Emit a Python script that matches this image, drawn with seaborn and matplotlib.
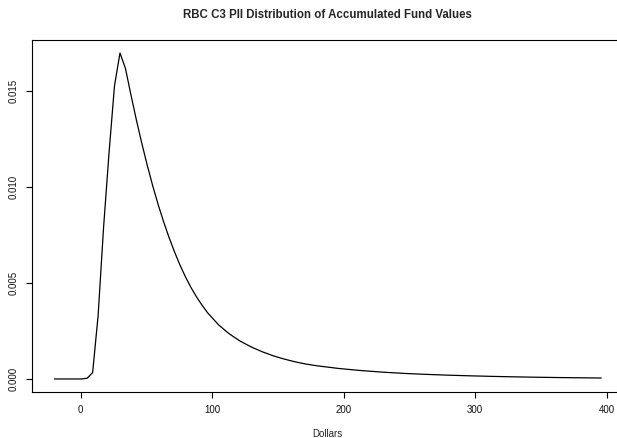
import matplotlib
matplotlib.use("Agg")
import matplotlib.pyplot as plt
import seaborn as sns
import pandas as pd

# Estimated density of accumulated fund values (dollars)
dollars = [-20.0, 0.8, 4.96, 9.12, 13.28, 17.44, 21.6, 25.76, 29.92, 34.08,
           38.24, 42.4, 46.56, 50.72, 54.88, 59.04, 63.2, 67.36, 71.52, 75.68,
           79.84, 84.0, 88.16, 92.32, 96.48, 104.8, 113.12, 121.44, 129.76,
           138.08, 146.4, 154.72, 163.04, 171.36, 179.68, 196.32, 212.96,
           229.6, 246.24, 262.88, 279.52, 296.16, 312.8, 329.44, 346.08,
           362.72, 379.36, 396.0]
density = [0.0, 0.0, 0.00004, 0.00033, 0.0033, 0.0079, 0.0118, 0.0153, 0.0170, 0.0162,
           0.01482, 0.01351, 0.01228, 0.01113, 0.01006, 0.00908, 0.00818, 0.00736, 0.00661, 0.00592,
           0.00531, 0.00476, 0.00428, 0.00385, 0.00346, 0.00283, 0.00235, 0.00197, 0.00167,
           0.00142, 0.00121, 0.00104, 0.000895, 0.000778, 0.000688, 0.000547, 0.00044,
           0.000356, 0.000289, 0.000239, 0.000198, 0.000164, 0.000135, 0.000111, 0.0000908,
           0.0000745, 0.0000611, 0.00005]

x_ticks = [0, 100, 200, 300, 400]
y_ticks = [0.000, 0.005, 0.010, 0.015]
y_tick_labels = ["0.000", "0.005", "0.010", "0.015"]

df = pd.DataFrame({"Dollars": dollars, "Density": density})

sns.set_style("ticks")
plt.rcParams["font.family"] = ["Liberation Sans", "DejaVu Sans"]

fig = plt.figure(figsize=(6.17, 4.38), dpi=100)
# the plot frame runs past the right edge of the canvas
ax = fig.add_axes([32 / 617, 46 / 438, 591.6 / 617, 352 / 438])

sns.lineplot(data=df, x="Dollars", y="Density", ax=ax, color="black",
             linewidth=0.9, estimator=None, sort=False)

ax.set_xlim(-37.0, 413.0)
ax.set_ylim(-0.00068, 0.01768)
ax.set_xticks(x_ticks)
ax.set_xticklabels([str(t) for t in x_ticks])
ax.set_yticks(y_ticks)
ax.set_yticklabels(y_tick_labels, rotation=90, va="center")

for side in ["left", "top", "bottom"]:
    ax.spines[side].set_visible(True)
    ax.spines[side].set_color("black")
    ax.spines[side].set_linewidth(0.8)
ax.spines["right"].set_visible(False)

ax.tick_params(axis="both", direction="out", length=4.3, width=0.8,
               color="black", labelsize=7, labelcolor="#111111")
ax.tick_params(axis="x", pad=5)
ax.tick_params(axis="y", pad=5.5)

ax.set_xlabel("Dollars", fontsize=7, labelpad=10)
ax.set_ylabel("")
ax.set_title("RBC C3 PII Distribution of Accumulated Fund Values",
             fontsize=8.3, fontweight="bold", pad=16)

fig.savefig("out.png", dpi=100)
